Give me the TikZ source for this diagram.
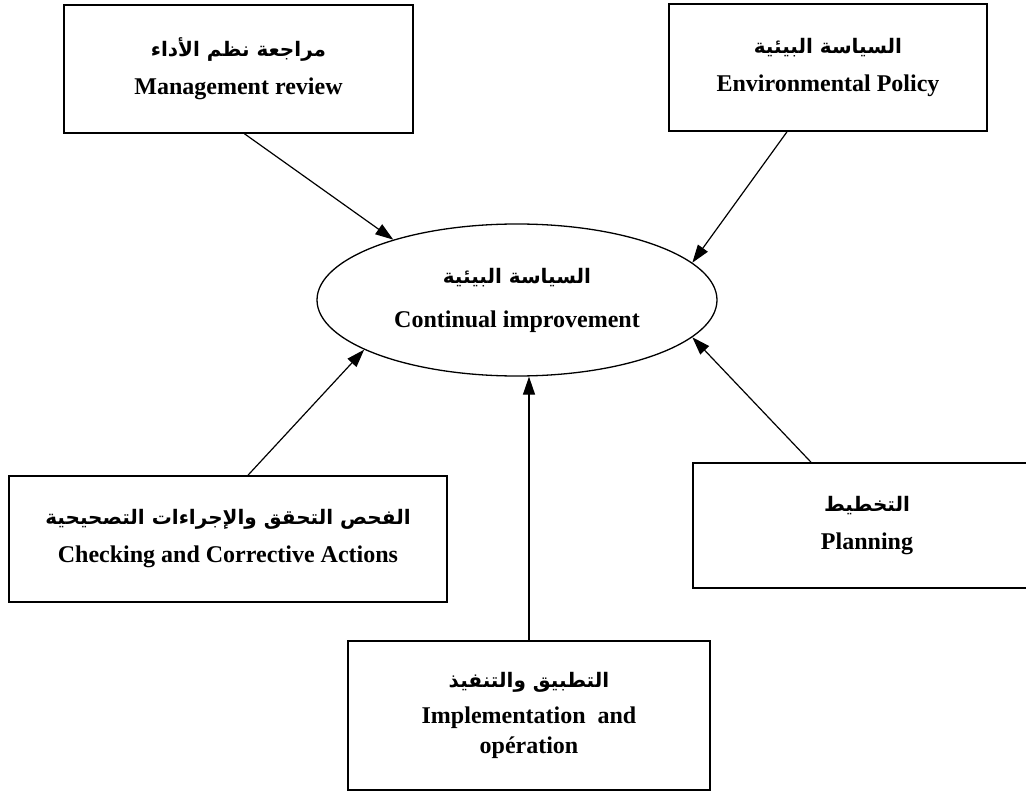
\documentclass[tikz,border=0pt]{standalone}
\usepackage{fontspec}
\setmainfont{Liberation Serif}
\newfontfamily\arabicfont[Script=Arabic]{DejaVu Sans}
\TeXXeTstate=1
\usetikzlibrary{arrows.meta,shapes.geometric}

% Arabic line, right to left
\newcommand\arabline[1]{{\arabicfont\bfseries\fontsize{20}{24}\selectfont\beginR #1\endR}}

\tikzset{
  stagebox/.style={draw, line width=1.6pt, inner sep=0pt, align=center,
    font=\bfseries\fontsize{24}{30}\selectfont},
  centreoval/.style={draw, ellipse, line width=1.3pt, inner sep=0pt, align=center,
    minimum width=400pt, minimum height=152pt,
    font=\bfseries\fontsize{24}{30}\selectfont},
  feed/.style={line width=1.2pt, -{Triangle[length=18pt,width=12pt]}}
}

\begin{document}
\begin{tikzpicture}[x=1pt,y=-1pt]
\useasboundingbox (0,0) rectangle (1026,797);
\clip (0,0) rectangle (1026,797);

% central goal
\node[centreoval] (ell) at (517,300)
  {\arabline{السياسة البيئية}\\[14pt] Continual improvement};

% the five stages
\node[stagebox, minimum width=349pt, minimum height=128pt] (mgmt) at (238.5,69)
  {\arabline{مراجعة نظم الأداء}\\[8pt] Management review};
\node[stagebox, minimum width=318pt, minimum height=127pt] (env) at (828,67.5)
  {\arabline{السياسة البيئية}\\[8pt] Environmental Policy};
\node[stagebox, minimum width=438pt, minimum height=126pt] (check) at (228,539)
  {\arabline{الفحص التحقق والإجراءات التصحيحية}\\[8pt] Checking and Corrective Actions};
\node[stagebox, minimum width=348pt, minimum height=125pt] (plan) at (867,525.5)
  {\arabline{التخطيط}\\[8pt] Planning};
\node[stagebox, minimum width=362pt, minimum height=149pt] (impl) at (529,715.5)
  {\arabline{التطبيق والتنفيذ}\\[6pt] Implementation\ \ and\\ opération};

% connectors into the goal
\draw[feed] ([xshift=6pt]mgmt.south) -- (ell.154);
\draw[feed] ([xshift=-41pt]env.south) -- (ell.12);
\draw[feed] ([xshift=20pt]check.north) -- (ell.198);
\draw[feed] ([xshift=-56pt]plan.north) -- (ell.348);
\draw[feed] (impl.north) -- (impl.north |- ell.south);
\end{tikzpicture}
\end{document}
